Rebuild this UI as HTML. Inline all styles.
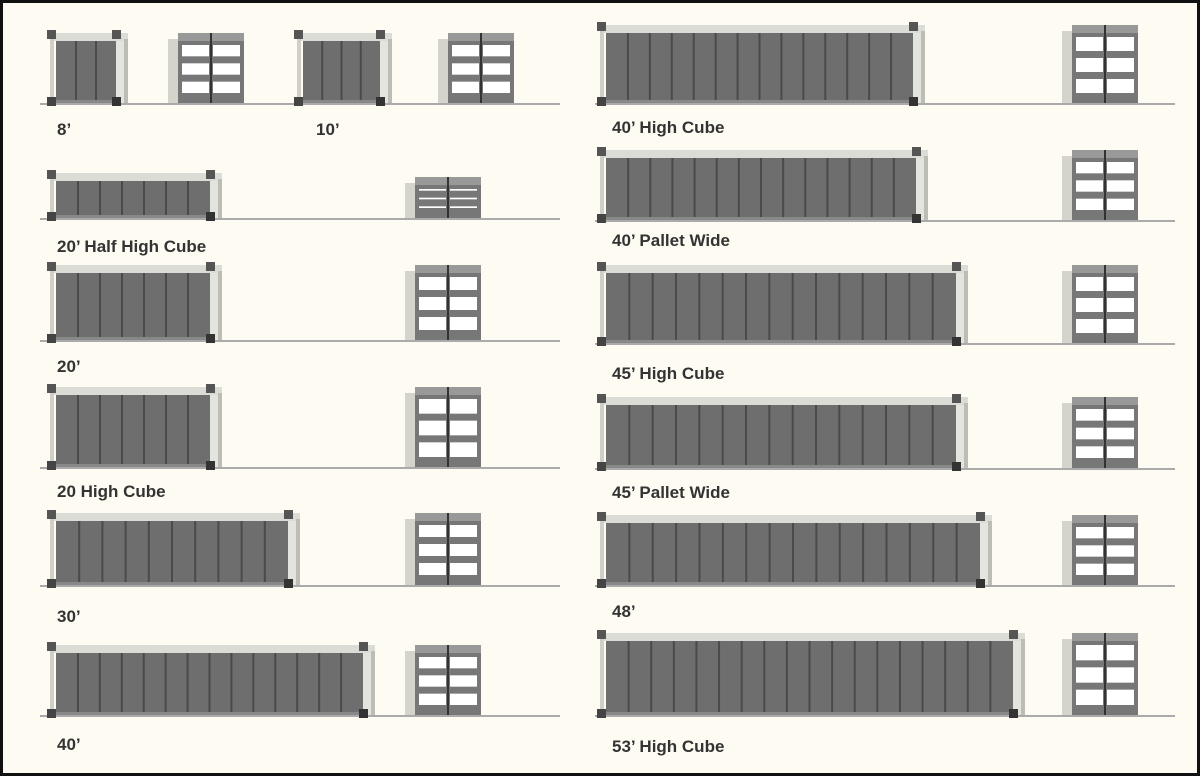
<!DOCTYPE html>
<html><head><meta charset="utf-8"><style>
html,body{margin:0;padding:0;background:#fff}
#wrap{position:relative;width:1194px;height:770px;border:3px solid #111;background:#fdfbf2;overflow:hidden}
svg{position:absolute;left:0;top:0}
text{font-family:"Liberation Sans",sans-serif;font-weight:bold;font-size:17px;fill:#333}
</style></head><body>
<div id="wrap">
<svg id="s" width="1194" height="770" viewBox="3 3 1194 770">
<g id="g"></g>
<text x="57" y="135">8’</text>
<text x="316" y="135">10’</text>
<text x="57" y="252">20’ Half High Cube</text>
<text x="57" y="372">20’</text>
<text x="57" y="497">20 High Cube</text>
<text x="57" y="622">30’</text>
<text x="57" y="750">40’</text>
<text x="612" y="133">40’ High Cube</text>
<text x="612" y="246">40’ Pallet Wide</text>
<text x="612" y="379">45’ High Cube</text>
<text x="612" y="498">45’ Pallet Wide</text>
<text x="612" y="617">48’</text>
<text x="612" y="752">53’ High Cube</text>
</svg>
</div>
<script>
var g=document.getElementById('g'),h='';
function r(x,y,w,hh,f){h+='<rect x="'+x+'" y="'+y+'" width="'+w+'" height="'+hh+'" fill="'+f+'"/>';}
function side(x1,x2,t,b){
 var w=x2-x1;
 r(x1+4,t,w-4,8,'#dcdcd6');
 r(x1+6,t+8,w-18,b-t-8,'#6e6e6e');
 var n=Math.max(2,Math.round(w/24));
 for(var i=1;i<n;i++){r(x1+6+i*(w-18)/n-1,t+8,2,b-t-8,'#4a4a4a');}
 r(x2-12,t+8,8,b-t-8,'#e4e4de');r(x2-4,t+6,4,b-t-6,'#bdbdb5');
 r(x1,t,4,b-t,'#cfcfc8');
 r(x1-3,t-3,9,9,'#555');r(x2-16,t-3,9,9,'#555');
 r(x1-3,b-6,9,9,'#444');r(x2-16,b-6,9,9,'#333');
 r(x1+6,b-3,w-22,3,'#888');
}
function end(x,t,b){
 var w=76,hh=b-t;
 r(x,t+6,10,hh-6,'#d4d4cc');
 r(x+10,t,w-10,hh,'#777');
 r(x+10,t,w-10,8,'#999');
 var cw=(w-10-12)/2, rh=(hh-18)/3;
 for(var i=0;i<3;i++)for(var j=0;j<2;j++){r(x+14+j*(cw+4),t+10+i*(rh+1)+2,cw,rh-6,'#fff');}
 r(x+10+(w-10)/2-1,t,2,hh,'#333');
}
function ground(x1,x2,y){r(x1,y,x2-x1,2,'#aaa');}
var L=[[50,128,33,103,170],[297,392,33,103,440]];
ground(40,560,103);
side(50,128,33,103);end(168,33,103);side(297,392,33,103);end(438,33,103);
var left=[[222,173,218],[222,265,340],[222,387,467],[300,513,585],[375,645,715]];
left.forEach(function(a){ground(40,560,a[2]);side(50,a[0],a[1],a[2]);end(405,a[1]+(a[1]==173?4:0),a[2]);});
var right=[[925,25,103],[928,150,220],[968,265,343],[968,397,468],[992,515,585],[1025,633,715]];
right.forEach(function(a){ground(595,1175,a[2]);side(600,a[0],a[1],a[2]);end(1062,a[1],a[2]);});
g.innerHTML=h;
</script>
</body></html>
